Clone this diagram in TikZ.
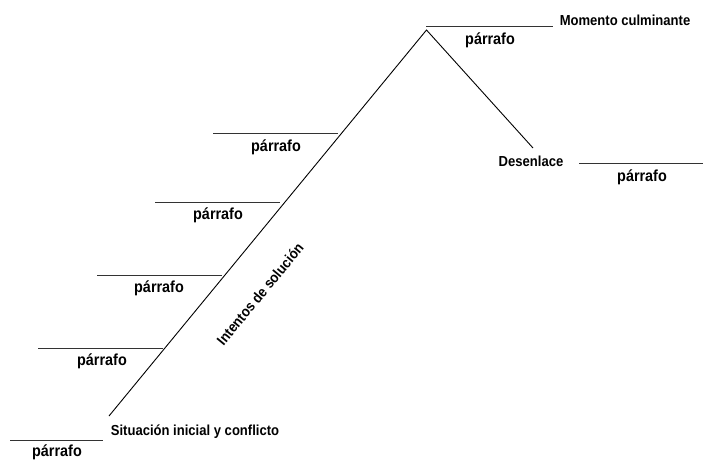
\documentclass[tikz,border=0pt]{standalone}
\usepackage{fontspec}
\setmainfont{Liberation Sans}[FakeStretch=0.9]
\begin{document}
\begin{tikzpicture}[x=1pt,y=-1pt,
  lab/.style={font=\fontsize{14.5}{16}\selectfont\bfseries, inner sep=0pt, text=black},
  par/.style={font=\fontsize{16}{18}\selectfont\bfseries, inner sep=0pt, text=black},
  blank/.style={line width=0.8pt, black!80},
  plot/.style={line width=0.9pt, black}]
\useasboundingbox (0,0) rectangle (703,461);
% main plot line
\coordinate (start) at (109,416);
\coordinate (peak) at (426.5,30);
\coordinate (fin) at (533,148);
\draw[plot] (start) -- (peak) -- (fin);
% peak
\coordinate (pa) at (426,26); \coordinate (pb) at (553,26);
\draw[blank] (pa) -- (pb);
\node[lab] (mom) at (625,20) {Momento culminante};
\node[par] (p0) at (490,40) {párrafo};
% desenlace
\node[lab] (des) at (531,161) {Desenlace};
\coordinate (da) at (579,163); \coordinate (db) at (703,163);
\draw[blank] (da) -- (db);
\node[par] (p5) at (642,177) {párrafo};
% bottom
\coordinate (ba) at (10,440); \coordinate (bb) at (103,440);
\draw[blank] (ba) -- (bb);
\node[lab] (sit) at (195,432) {Situación inicial y conflicto};
\node[par] (p6) at (57,452) {párrafo};
% rising
\coordinate (l1a) at (213,133); \coordinate (l1b) at (338,133);
\draw[blank] (l1a) -- (l1b);
\node[par] (p1) at (276,147) {párrafo};
\coordinate (l2a) at (155,202); \coordinate (l2b) at (280,202);
\draw[blank] (l2a) -- (l2b);
\node[par] (p2) at (218,215) {párrafo};
\coordinate (l3a) at (97,275); \coordinate (l3b) at (222,275);
\draw[blank] (l3a) -- (l3b);
\node[par] (p3) at (159,288) {párrafo};
\coordinate (l4a) at (38,348); \coordinate (l4b) at (163,348);
\draw[blank] (l4a) -- (l4b);
\node[par] (p4) at (102,361) {párrafo};
\node[lab, rotate=50.5] (int) at (260,294) {Intentos de solución};
\end{tikzpicture}
\end{document}
